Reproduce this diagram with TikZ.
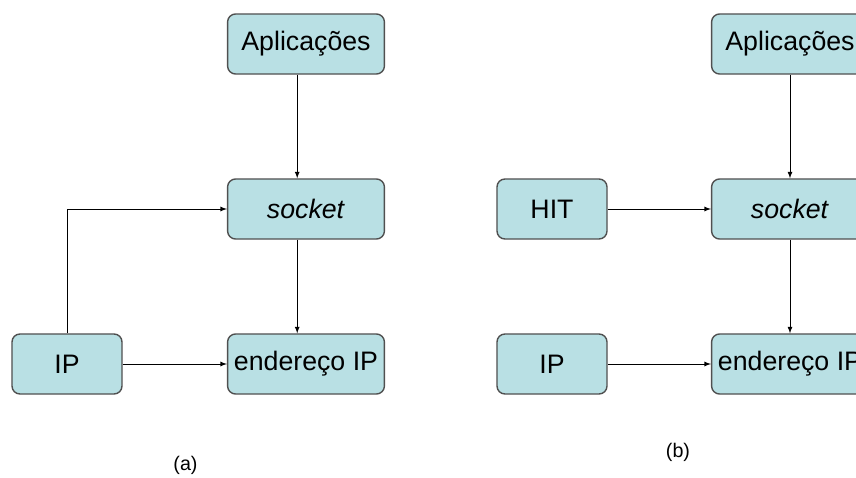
\documentclass[tikz,border=0pt]{standalone}
\usepackage{fontspec}
\setmainfont{Liberation Sans}
\definecolor{boxfill}{RGB}{185,224,228}
\definecolor{boxline}{RGB}{80,80,80}

\tikzstyle{block} = [align=center, draw=boxline, line width=1pt, fill=boxfill, rectangle, rounded corners=0.2cm, inner sep=0pt, minimum height=1.5cm, minimum width=3.92cm, font=\fontsize{19}{21}\selectfont]
\tikzstyle{small} = [block, minimum width=2.75cm]

\begin{document}
\begin{tikzpicture}[x=0.025cm,y=-0.025cm,>=latex,line width=0.6pt]
            %
            % frame of the picture (the right column runs off the edge)
            \useasboundingbox (0,0) rectangle (856,478);
            \clip (0,0) rectangle (856,478);
            %
            % (a) left blocks
            \node [block] (app1) at (306,44) {Aplica\c{c}\~oes};
            \node [block] (sock1) at (306,209) {\textit{socket}};
            \node [block] (end1) at (306,364) {endere\c{c}o IP};
            \node [small] (ip1) at (67,364) {IP};
            %
            % (b) right blocks
            \node [block] (app2) at (790,44) {Aplica\c{c}\~oes};
            \node [block] (sock2) at (790,209) {\textit{socket}};
            \node [block] (end2) at (790,364) {endere\c{c}o IP};
            \node [small] (hit2) at (552,209) {HIT};
            \node [small] (ip2) at (552,364) {IP};
            %
            % captions
            \node (capa) at (185.5,465) {\fontsize{14}{16}\selectfont (a)};
            \node (capb) at (678,452) {\fontsize{14}{16}\selectfont (b)};
            %
            % connections of (a)
            \draw [->] ([xshift=-0.22cm]app1.south) -- ([xshift=-0.22cm]sock1.north);
            \draw [->] ([xshift=-0.22cm]sock1.south) -- ([xshift=-0.22cm]end1.north);
            \draw [->] (ip1.north) |- (sock1.west);
            \draw [->] (ip1.east) -- (end1.west);
            %
            % connections of (b)
            \draw [->] (app2) -- (sock2);
            \draw [->] (sock2) -- (end2);
            \draw [->] (hit2.east) -- (sock2.west);
            \draw [->] (ip2.east) -- (end2.west);
            %
        \end{tikzpicture}
\end{document}
